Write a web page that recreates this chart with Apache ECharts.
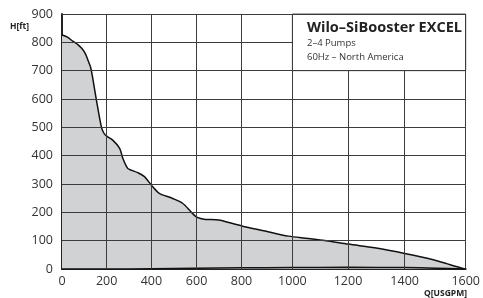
<!DOCTYPE html>
<html>
<head>
<meta charset="utf-8">
<script src="https://cdn.jsdelivr.net/npm/echarts@6/dist/echarts.min.js"></script>
<style>
  html, body { margin: 0; padding: 0; background: #fff; }
  #chart { width: 483px; height: 298px; }
</style>
</head>
<body>
<div id="chart"></div>
<script>
// axis ticks (flow, USGPM / head, ft)
const xTicks = [0, 200, 400, 600, 800, 1000, 1200, 1400, 1600];
const yTicks = [100, 200, 300, 400, 500, 600, 700, 800, 900];

// upper envelope of the operating range
const upperQ = [0, 22, 50, 71, 88, 100, 110, 118, 128, 139, 154, 176, 187, 200, 227, 258, 272, 294, 310, 339, 369, 406, 435, 494, 538, 575, 597, 618, 640, 699, 744, 802, 893, 984, 1057, 1129, 1200, 1305, 1400, 1497, 1540, 1594, 1600];
const upperH = [826, 819, 803, 792, 779, 766, 750, 733, 712, 667, 596, 502, 480, 469, 455, 426, 391, 355, 349, 340, 326, 290, 267, 249, 232, 202, 185, 178, 175, 173, 164, 152, 134, 116, 108, 99, 88, 73, 55, 32, 18, 1, 0];

// lower envelope
const lowerQ = [0, 200, 400, 600, 800, 1000, 1200, 1400, 1500, 1600];
const lowerH = [0, 0, 1, 3, 4, 5, 6, 5, 3, 0];

// the info box sits in the top right cell block
const boxQ = [1000, 1600];
const boxH = [700, 900];

// the printed chart spaces its flow gridlines unevenly; pixel widths between ticks
const xTickSpan = [45, 45, 45.5, 45.2, 51.3, 56, 57, 61.5];
const xTickPos = xTickSpan.reduce((acc, w) => { acc.push(acc[acc.length - 1] + w); return acc; }, [0]);

function toAxis(q) {
  for (let i = 0; i < xTicks.length - 1; i++) {
    if (q <= xTicks[i + 1]) {
      const t = (q - xTicks[i]) / (xTicks[i + 1] - xTicks[i]);
      return xTickPos[i] + t * (xTickPos[i + 1] - xTickPos[i]);
    }
  }
  return xTickPos[xTickPos.length - 1];
}

const font = "'Open Sans', sans-serif";
const gridColor = "#3c3c3c";

// gridlines stop at the info box
const vLines = xTicks.slice(1).map((q) => {
  const top = q > boxQ[0] && q < boxQ[1] ? boxH[0] : 900;
  return [{ coord: [toAxis(q), 0] }, { coord: [toAxis(q), top] }];
});
const hLines = yTicks.map((h) => {
  const right = h > boxH[0] && h < boxH[1] ? boxQ[0] : 1600;
  return [{ coord: [0, h] }, { coord: [toAxis(right), h] }];
});

const chart = echarts.init(document.getElementById("chart"));
chart.setOption({
  animation: false,
  grid: { left: 62, right: 14.5, top: 14, bottom: 29 },
  xAxis: {
    type: "value",
    min: 0,
    max: xTickPos[xTickPos.length - 1],
    axisLine: { show: true, lineStyle: { color: "#222", width: 2 } },
    axisTick: { show: false },
    splitLine: { show: false },
    axisLabel: {
      customValues: xTickPos,
      color: "#333",
      fontFamily: font,
      fontSize: 12.5,
      lineHeight: 12,
      margin: 6,
      formatter: (v) => {
        let best = 0;
        xTickPos.forEach((p, i) => { if (Math.abs(p - v) < Math.abs(xTickPos[best] - v)) best = i; });
        return String(xTicks[best]);
      },
    },
  },
  yAxis: {
    type: "value",
    min: 0,
    max: 900,
    interval: 100,
    axisLine: { show: true, lineStyle: { color: "#222", width: 2 } },
    axisTick: { show: false },
    splitLine: { show: false },
    axisLabel: { color: "#333", fontFamily: font, fontSize: 12.5, margin: 9 },
  },
  series: [
    {
      type: "line",
      data: upperQ.map((q, i) => [toAxis(q), upperH[i]]),
      smooth: 0.3,
      symbol: "none",
      lineStyle: { color: "#111", width: 1.5 },
      itemStyle: { color: "#111" },
      areaStyle: { color: "#d1d2d4", opacity: 1 },
      markLine: {
        silent: true,
        symbol: "none",
        label: { show: false },
        lineStyle: { color: gridColor, width: 1, type: "solid" },
        data: [...vLines, ...hLines].map((pair) => [
          { ...pair[0], lineStyle: { color: gridColor } },
          pair[1],
        ]),
      },
    },
    {
      type: "line",
      data: lowerQ.map((q, i) => [toAxis(q), lowerH[i]]),
      smooth: 0.3,
      symbol: "none",
      lineStyle: { color: "#111", width: 1.5 },
      itemStyle: { color: "#111" },
      markArea: {
        silent: true,
        itemStyle: { color: "#fff", borderColor: "#555", borderWidth: 1 },
        data: [[{ xAxis: toAxis(boxQ[0]), yAxis: boxH[0] }, { xAxis: toAxis(boxQ[1]), yAxis: boxH[1] }]],
      },
    },
  ],
  graphic: [
    { type: "text", left: 10, top: 22, z: 10, style: { text: "H[ft]", font: "bold 8.5px " + font, fill: "#222" } },
    { type: "text", right: 16, top: 289, z: 10, style: { text: "Q[USGPM]", font: "bold 8.5px " + font, fill: "#222" } },
    { type: "text", left: 307, top: 20, z: 10, style: { text: "Wilo–SiBooster EXCEL", font: "bold 14.5px " + font, fill: "#222" } },
    { type: "text", left: 307, top: 38, z: 10, style: { text: "2–4 Pumps", font: "9.5px " + font, fill: "#333" } },
    { type: "text", left: 307, top: 52, z: 10, style: { text: "60Hz – North America", font: "9.5px " + font, fill: "#333" } },
  ],
});
</script>
</body>
</html>
